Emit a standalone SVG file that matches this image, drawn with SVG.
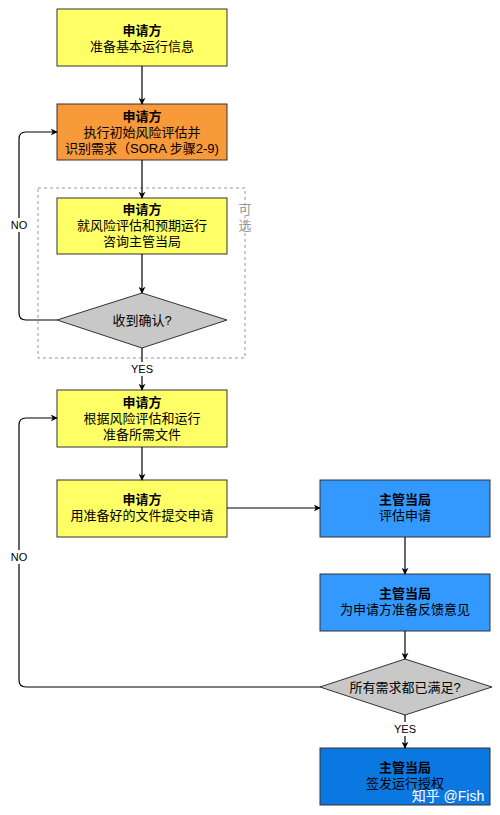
<svg xmlns="http://www.w3.org/2000/svg" width="500" height="815" viewBox="0 0 500 815">
<defs>
<marker id="arr" viewBox="0 0 10 10" refX="9" refY="5" markerWidth="7" markerHeight="7" orient="auto" markerUnits="userSpaceOnUse">
<path d="M0,0 L10,5 L0,10 L3,5 Z" fill="#000"/>
</marker>
<style>
text{font-family:"Liberation Sans","Noto Sans CJK SC",sans-serif;font-size:13px;text-anchor:middle;fill:#000}
.b{font-weight:bold}
.y{fill:#ffff66;stroke:#333;stroke-width:1}
.o{fill:#f8993a;stroke:#333;stroke-width:1}
.bl{fill:#3399ff;stroke:#333;stroke-width:1}
.db{fill:#0a78e0;stroke:#333;stroke-width:1}
.g{fill:#c8c8c8;stroke:#333;stroke-width:1}
.e{fill:none;stroke:#000;stroke-width:1.2;marker-end:url(#arr)}
.l{font-size:11px}
</style>
</defs>
<rect width="500" height="815" fill="#fff"/>
<g id="optional">
<rect x="38" y="188" width="207" height="170" fill="none" stroke="#999" stroke-dasharray="3 3"/>
<text x="245" y="214" style="fill:#999">可</text>
<text x="245" y="230" style="fill:#999">选</text>
</g>
<g id="n1"><rect class="y" x="57" y="9" width="170" height="57"/><text class="b" x="142" y="35">申请方</text><text x="142" y="51">准备基本运行信息</text></g>
<g id="n2"><rect class="o" x="57" y="104" width="170" height="56"/><text class="b" x="142" y="121">申请方</text><text x="142" y="137">执行初始风险评估并</text><text x="142" y="153">识别需求（SORA 步骤2-9)</text></g>
<g id="n3"><rect class="y" x="57" y="198" width="170" height="56"/><text class="b" x="142" y="214">申请方</text><text x="142" y="230">就风险评估和预期运行</text><text x="142" y="246">咨询主管当局</text></g>
<g id="d1"><polygon class="g" points="142,293 227,320 142,348 57,320"/><text x="142" y="325">收到确认?</text></g>
<g id="n4"><rect class="y" x="57" y="390" width="170" height="57"/><text class="b" x="142" y="407">申请方</text><text x="142" y="423">根据风险评估和运行</text><text x="142" y="439">准备所需文件</text></g>
<g id="n5"><rect class="y" x="57" y="480" width="170" height="57"/><text class="b" x="142" y="504">申请方</text><text x="142" y="520">用准备好的文件提交申请</text></g>
<g id="n6"><rect class="bl" x="320" y="480" width="170" height="57"/><text class="b" x="405" y="504">主管当局</text><text x="405" y="520">评估申请</text></g>
<g id="n7"><rect class="bl" x="320" y="574" width="170" height="57"/><text class="b" x="405" y="598">主管当局</text><text x="405" y="614">为申请方准备反馈意见</text></g>
<g id="d2"><polygon class="g" points="405,659 492,687 405,715 320,687"/><text x="405" y="692">所有需求都已满足?</text></g>
<g id="n8"><rect class="db" x="320" y="748" width="170" height="57"/><text class="b" x="405" y="772">主管当局</text><text x="405" y="788">签发运行授权</text></g>
<g id="edges">
<path class="e" d="M142,66 V104"/>
<path class="e" d="M142,160 V198"/>
<path class="e" d="M142,254 V293"/>
<path class="e" d="M57,320 H26 Q19,320 19,313 V139 Q19,132 26,132 H57"/>
<path class="e" d="M142,348 V390"/>
<path class="e" d="M142,447 V480"/>
<path class="e" d="M227,508 H320"/>
<path class="e" d="M405,537 V574"/>
<path class="e" d="M405,631 V659"/>
<path class="e" d="M320,687 H26 Q19,687 19,680 V425 Q19,418 26,418 H57"/>
<path class="e" d="M405,715 V748"/>
<rect x="8" y="218" width="22" height="14" fill="#fff"/><text class="l" x="19" y="229">NO</text>
<rect x="8" y="550" width="22" height="14" fill="#fff"/><text class="l" x="19" y="561">NO</text>
<rect x="127" y="362" width="30" height="14" fill="#fff"/><text class="l" x="142" y="373">YES</text>
<rect x="390" y="722" width="30" height="14" fill="#fff"/><text class="l" x="405" y="733">YES</text>
</g>
<text x="448" y="801" style="fill:#fff;font-size:14px">知乎 @Fish</text>
</svg>
